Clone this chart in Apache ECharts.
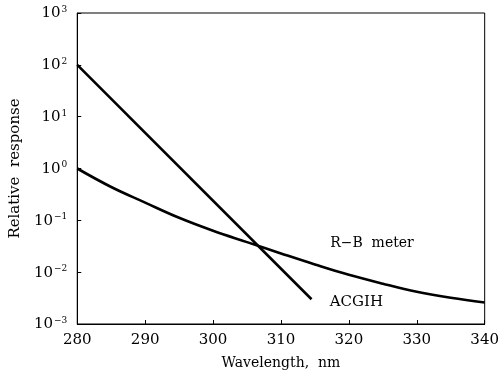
<!DOCTYPE html>
<html>
<head>
<meta charset="utf-8">
<script src="https://cdn.jsdelivr.net/npm/echarts@6/dist/echarts.min.js"></script>
<style>html,body{margin:0;padding:0;background:#fff;}#c{width:502px;height:377px;}</style>
</head>
<body>
<div id="c"></div>
<script>
var xTicks = [280, 290, 300, 310, 320, 330, 340];
var yTicks = [0.001, 0.01, 0.1, 1, 10, 100, 1000];
var acgihX = [280, 314.5];
var acgihY = [100, 0.003];
var rbX = [280, 285, 290, 295, 300, 305, 310, 315, 320, 325, 330, 335, 340];
var rbY = [1.0, 0.44, 0.22, 0.112, 0.063, 0.038, 0.023, 0.0141, 0.0089, 0.006, 0.0042, 0.0032, 0.0026];

var FONT = 'DejaVu Serif';
var chart = echarts.init(document.getElementById('c'));
function pairs(xs, ys){ return xs.map(function(x,i){ return [x, ys[i]]; }); }

chart.setOption({
  animation: false,
  backgroundColor: '#fff',
  grid: {left: 73, right: 14, top: 13, bottom: 53, show: true, borderColor: '#000', borderWidth: 1},
  xAxis: {
    type: 'value', min: 280, max: 340, interval: 10,
    name: 'Wavelength,  nm', nameLocation: 'middle', nameGap: 32,
    nameTextStyle: {fontFamily: FONT, fontSize: 14, color: '#000'},
    axisLine: {lineStyle: {color: '#000', width: 1}},
    axisTick: {inside: true, length: 4, lineStyle: {color: '#000'}},
    axisLabel: {fontFamily: FONT, fontSize: 15, color: '#000', margin: 9},
    splitLine: {show: false}
  },
  yAxis: {
    type: 'log', logBase: 10, min: 0.001, max: 1000,
    name: 'Relative  response', nameLocation: 'middle', nameGap: 53,
    nameTextStyle: {fontFamily: FONT, fontSize: 15, color: '#000'},
    axisLine: {lineStyle: {color: '#000', width: 1}},
    axisTick: {inside: true, length: 4, lineStyle: {color: '#000'}},
    splitLine: {show: false},
    axisLabel: {
      margin: 10,
      formatter: function(v){
        var e = Math.round(Math.log10(v));
        var s = e < 0 ? '\u2212' + (-e) : '' + e;
        return '{b|10}{e|' + s + '}';
      },
      rich: {
        b: {fontFamily: FONT, fontSize: 15, color: '#000', verticalAlign: 'bottom', lineHeight: 16},
        e: {fontFamily: FONT, fontSize: 9, color: '#000', verticalAlign: 'top', padding: [0,0,8,1], lineHeight: 16}
      }
    }
  },
  series: [
    {type: 'line', data: pairs(acgihX, acgihY), symbol: 'none', lineStyle: {color: '#000', width: 2.6}},
    {type: 'line', data: pairs(rbX, rbY), symbol: 'none', smooth: 0.4, lineStyle: {color: '#000', width: 2.6}}
  ]
});

var p1 = chart.convertToPixel({gridIndex: 0}, [323.4, 0.036]);
var p2 = chart.convertToPixel({gridIndex: 0}, [321.1, 0.0026]);
chart.setOption({
  graphic: [
    {type: 'text', x: p1[0], y: p1[1], style: {text: 'R\u2212B  meter', font: '14px "DejaVu Serif"', fill: '#000', textAlign: 'center', textVerticalAlign: 'middle'}},
    {type: 'text', x: p2[0], y: p2[1], style: {text: 'ACGIH', font: '15px "DejaVu Serif"', fill: '#000', textAlign: 'center', textVerticalAlign: 'middle'}}
  ]
});
</script>
</body>
</html>
